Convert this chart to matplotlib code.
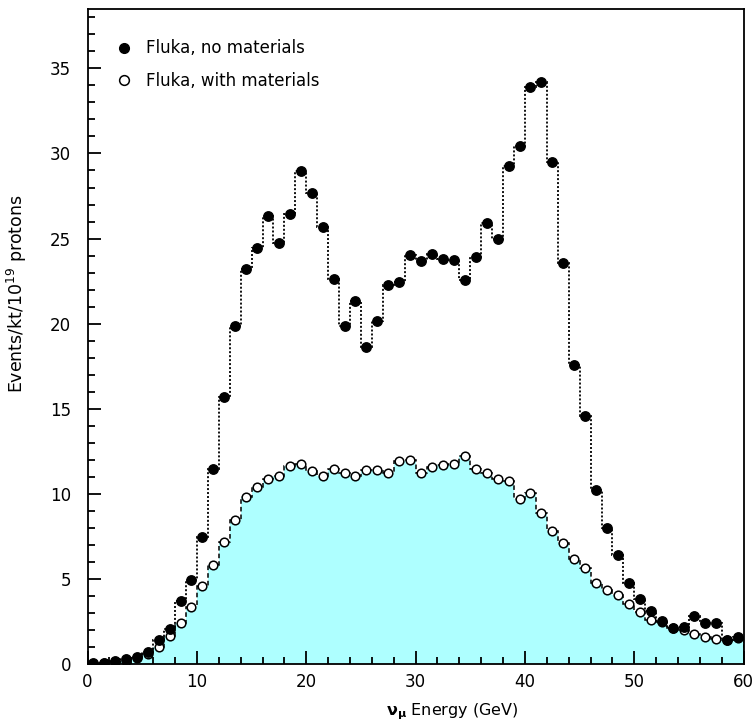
import numpy as np
import matplotlib
matplotlib.use('Agg')
import matplotlib.pyplot as plt
from matplotlib.ticker import MultipleLocator
from matplotlib.lines import Line2D

plt.rcParams['font.family'] = ['DejaVu Sans']

################################################################################################
# DATA
################################################################################################

# 1 GeV bins from 0 to 60
bin_edges = list(range(0, 61))

no_materials = [0.05, 0.1, 0.2, 0.3, 0.45, 0.7, 1.43, 2.1, 3.74, 4.96,
                7.47, 11.45, 15.7, 19.86, 23.2, 24.47, 26.3, 24.76, 26.43, 28.98,
                27.66, 25.7, 22.65, 19.86, 21.33, 18.65, 20.19, 22.3, 22.45, 24.04,
                23.68, 24.1, 23.78, 23.74, 22.55, 23.94, 25.94, 24.96, 29.24, 30.41,
                33.88, 34.18, 29.47, 23.59, 17.55, 14.6, 10.21, 8.0, 6.43, 4.76,
                3.82, 3.15, 2.55, 2.15, 2.21, 2.84, 2.45, 2.45, 1.43, 1.59]

with_materials = [0.0, 0.08, 0.15, 0.2, 0.35, 0.6, 1.04, 1.66, 2.41, 3.35,
                  4.6, 5.84, 7.21, 8.46, 9.82, 10.41, 10.88, 11.04, 11.66, 11.78,
                  11.37, 11.08, 11.47, 11.24, 11.04, 11.43, 11.39, 11.24, 11.92, 11.98,
                  11.24, 11.59, 11.68, 11.78, 12.21, 11.47, 11.24, 10.88, 10.74, 9.71,
                  10.06, 8.88, 7.8, 7.12, 6.18, 5.65, 4.76, 4.37, 4.08, 3.55,
                  3.1, 2.6, 2.5, 2.12, 2.02, 1.78, 1.59, 1.47, 1.43, 1.53]

labels = ['Fluka, no materials', 'Fluka, with materials']

################################################################################################
# PLOT
################################################################################################

edges = np.array(bin_edges)
centers = 0.5 * (edges[:-1] + edges[1:])

fig = plt.figure(figsize=(7.55, 7.28), dpi=100)
ax = fig.add_axes([0.116, 0.0875, 0.869, 0.9005])

# with materials: cyan filled histogram, dashed outline, open circles
ax.stairs(with_materials, edges, fill=True, color='#aeffff', linewidth=0)
ax.stairs(with_materials, edges, color='black', linewidth=1.1, linestyle=(0, (3, 2)))
ax.plot(centers, with_materials, 'o', ms=6.2, mfc='white', mec='black', mew=1.1)

# no materials: dotted outline, filled circles
ax.stairs(no_materials, edges, color='black', linewidth=1.3, linestyle=(0, (1.1, 1.1)))
ax.plot(centers, no_materials, 'o', ms=6.8, mfc='black', mec='black')

ax.set_xlim(0, 60)
ax.set_ylim(0, 38.5)

ax.xaxis.set_major_locator(MultipleLocator(10))
ax.xaxis.set_minor_locator(MultipleLocator(2))
ax.yaxis.set_major_locator(MultipleLocator(5))
ax.yaxis.set_minor_locator(MultipleLocator(1))

ax.tick_params(which='both', direction='in', top=False, right=False, width=1.3, labelsize=12)
ax.tick_params(which='major', length=9.5)
ax.tick_params(which='minor', length=4.7)
ax.tick_params(axis='y', pad=12)
ax.tick_params(axis='x', pad=6)

for s in ax.spines.values():
    s.set_linewidth(1.3)

ax.set_xlabel(r'$\mathbf{\nu_\mu}$ Energy (GeV)', fontsize=11.5)
ax.xaxis.set_label_coords(0.556, -0.057)
ax.set_ylabel(r'Events/kt/10$^{19}$ protons', fontsize=12.5)
ax.yaxis.set_label_coords(-0.09, 0.565)

handles = [Line2D([], [], ls='none', marker='o', ms=7, mfc='black', mec='black'),
           Line2D([], [], ls='none', marker='o', ms=7, mfc='white', mec='black', mew=1.1)]
ax.legend(handles, labels, loc='upper left', bbox_to_anchor=(0.02, 0.976), frameon=False,
          fontsize=12, handlelength=1.0, handletextpad=0.8, labelspacing=0.85)

plt.savefig('out.png', dpi=100)
